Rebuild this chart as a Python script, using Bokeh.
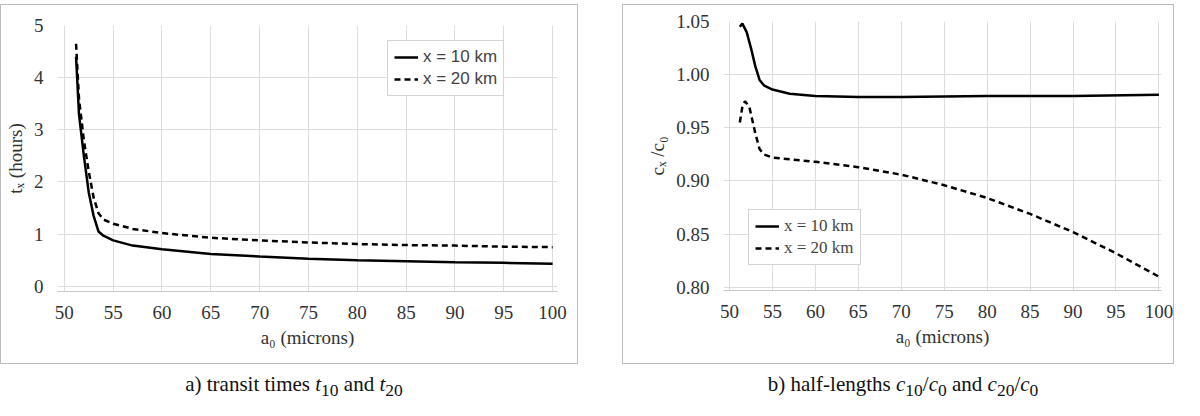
from bokeh.plotting import figure
from bokeh.layouts import row, column
from bokeh.models import Div, Range1d, FixedTicker, NumeralTickFormatter
from bokeh.embed import file_html
from bokeh.resources import INLINE

a_t10 = [51.2, 51.5, 52, 52.5, 53, 53.5, 54, 55, 57, 60, 65, 70, 75, 80, 85, 90, 95, 100]
t10 = [4.4, 3.3, 2.5, 1.8, 1.35, 1.05, 0.97, 0.88, 0.78, 0.71, 0.62, 0.57, 0.53, 0.50, 0.48, 0.46, 0.45, 0.43]
a_t20 = [51.2, 51.5, 52, 52.5, 53, 53.5, 54, 55, 57, 60, 65, 70, 75, 80, 85, 90, 95, 100]
t20 = [4.65, 3.6, 2.8, 2.2, 1.7, 1.4, 1.28, 1.2, 1.1, 1.02, 0.93, 0.88, 0.84, 0.81, 0.79, 0.78, 0.76, 0.75]
a_c10 = [51.2, 51.5, 52, 52.5, 53, 53.5, 54, 55, 57, 60, 65, 70, 80, 90, 100]
c10 = [1.045, 1.048, 1.04, 1.025, 1.008, 0.995, 0.99, 0.986, 0.982, 0.98, 0.979, 0.979, 0.98, 0.98, 0.981]
a_c20 = [51.2, 51.5, 51.8, 52.3, 53, 53.5, 54, 55, 60, 65, 70, 75, 80, 85, 90, 95, 100]
c20 = [0.955, 0.97, 0.975, 0.97, 0.945, 0.93, 0.925, 0.922, 0.918, 0.913, 0.906, 0.896, 0.884, 0.869, 0.852, 0.832, 0.81]
x_ticks = [50, 55, 60, 65, 70, 75, 80, 85, 90, 95, 100]

SERIF = "Liberation Serif"

def style(p, yticks, fmt, legend_font):
    p.outline_line_color = None
    p.xaxis.ticker = FixedTicker(ticks=x_ticks)
    p.yaxis.ticker = FixedTicker(ticks=yticks)
    if fmt:
        p.yaxis.formatter = NumeralTickFormatter(format=fmt)
    for ax in (p.xaxis, p.yaxis):
        ax.major_label_text_font = SERIF
        ax.major_label_text_font_size = "19px"
        ax.major_label_text_color = "#333333"
        ax.axis_label_text_font = SERIF
        ax.axis_label_text_font_size = "19px"
        ax.axis_label_text_font_style = "normal"
        ax.axis_label_text_color = "#333333"
        ax.major_tick_line_color = None
        ax.minor_tick_line_color = None
        ax.major_label_standoff = 8
    p.yaxis.axis_line_color = None
    p.xaxis.axis_line_color = "#c8c8c8"
    p.grid.grid_line_color = "#dddddd"
    p.xgrid.ticker = FixedTicker(ticks=x_ticks)
    p.ygrid.ticker = FixedTicker(ticks=yticks)
    p.legend.border_line_color = "#aaaaaa"
    p.legend.label_text_font = legend_font
    p.legend.label_text_font_size = "17px"
    p.legend.glyph_width = 24
    p.legend.spacing = 2
    p.legend.padding = 6
    p.legend.margin = 0
    p.styles = {"border": "1px solid #bbbbbb"}

p1 = figure(width=578, height=360, output_backend="svg", toolbar_location=None,
            x_range=Range1d(49.3, 100.5), y_range=Range1d(-0.1, 5.0),
            min_border_left=49, min_border_right=22, min_border_top=20, min_border_bottom=74)
p1.margin = (4, 0, 0, 0)
p1.line(a_t10, t10, color="black", line_width=2.5, legend_label="x = 10 km")
p1.line(a_t20, t20, color="black", line_width=2.5, line_dash="6 4", legend_label="x = 20 km")
p1.xaxis.axis_label = "a\u2080 (microns)"
p1.yaxis.axis_label = "t\u2093 (hours)"
style(p1, [0, 1, 2, 3, 4, 5], None, "Liberation Sans")
p1.legend.location = (330, 195)

p2 = figure(width=552, height=360, output_backend="svg", toolbar_location=None,
            x_range=Range1d(49.3, 100.3), y_range=Range1d(0.797, 1.05),
            min_border_left=100, min_border_right=14, min_border_top=16, min_border_bottom=75)
p2.margin = (4, 0, 0, 0)
p2.line(a_c10, c10, color="black", line_width=2.5, legend_label="x = 10 km")
p2.line(a_c20, c20, color="black", line_width=2.5, line_dash="6 4", legend_label="x = 20 km")
p2.xaxis.axis_label = "a\u2080 (microns)"
p2.yaxis.axis_label = "c\u2093 /c\u2080"
style(p2, [0.80, 0.85, 0.90, 0.95, 1.00, 1.05], "0.00", SERIF)
p2.legend.location = (25, 25)

cap_style = {"text-align": "center", "width": "100%"}
span = '<span style="font-family: \'Liberation Serif\'; font-size: 21px; color: #111;">'
d1 = Div(text=span + "a) transit times <i>t</i><sub>10</sub> and <i>t</i><sub>20</sub></span>",
         width=578, height=36, styles=cap_style)
d2 = Div(text=span + "b) half-lengths <i>c</i><sub>10</sub>/<i>c</i><sub>0</sub> and <i>c</i><sub>20</sub>/<i>c</i><sub>0</sub></span>",
         width=552, height=36, styles=cap_style)

layout = row(column(p1, d1, spacing=0), column(p2, d2, spacing=0), spacing=44)
open("out.html", "w").write(file_html(layout, INLINE))
